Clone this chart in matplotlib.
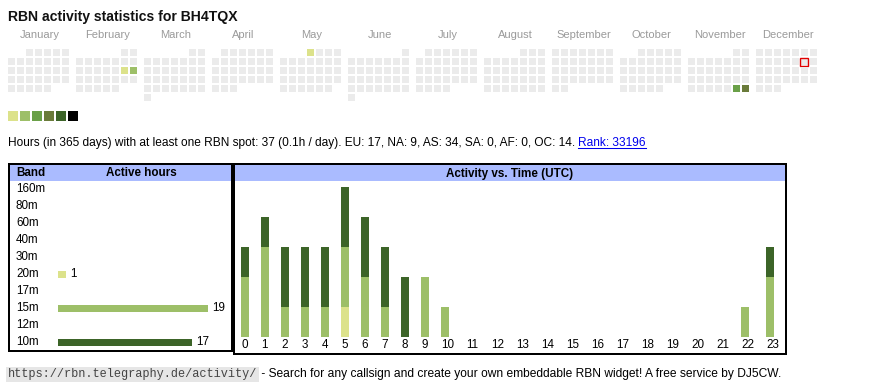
import datetime as dt
import numpy as np
import matplotlib
matplotlib.use("Agg")
import matplotlib.pyplot as plt
from matplotlib.patches import Rectangle
from matplotlib.transforms import blended_transform_factory

# ---------------- data ----------------
title = "RBN activity statistics for BH4TQX"
year = 2025
months = ["January", "February", "March", "April", "May", "June", "July",
          "August", "September", "October", "November", "December"]
active_days = ["2025-02-15", "2025-02-16", "2025-05-01", "2025-11-29", "2025-11-30"]
active_levels = [1, 2, 1, 3, 4]
today = "2025-12-13"
level_colors = ["#dce28b", "#9dbf68", "#6aa048", "#6a7b3a", "#3c6428", "#000000"]

bands = ["160m", "80m", "60m", "40m", "30m", "20m", "17m", "15m", "12m", "10m"]
band_hours = [0, 0, 0, 0, 0, 1, 0, 19, 0, 17]
band_colors = {"20m": "#dce28b", "15m": "#9dbf68", "10m": "#3c6428"}

hours = list(range(24))
hour_20m = [0, 0, 0, 0, 0, 1, 0, 0, 0, 0, 0, 0, 0, 0, 0, 0, 0, 0, 0, 0, 0, 0, 0, 0]
hour_15m = [2, 3, 1, 1, 1, 2, 2, 1, 0, 2, 1, 0, 0, 0, 0, 0, 0, 0, 0, 0, 0, 0, 1, 2]
hour_10m = [1, 1, 2, 2, 2, 2, 2, 2, 2, 0, 0, 0, 0, 0, 0, 0, 0, 0, 0, 0, 0, 0, 0, 1]

info_text = ("Hours (in 365 days) with at least one RBN spot: 37 (0.1h / day). "
             "EU: 17, NA: 9, AS: 34, SA: 0, AF: 0, OC: 14. ")
rank_text = "Rank: 33196"
footer_url = "https://rbn.telegraphy.de/activity/"
footer_text = " - Search for any callsign and create your own embeddable RBN widget! A free service by DJ5CW."

# ---------------- figure ----------------
W, H = 870, 390
fig = plt.figure(figsize=(W / 100, H / 100), dpi=100)
fig.patch.set_facecolor("white")
FONT = "Liberation Sans"

ax = fig.add_axes([0, 0, 1, 1])
ax.set_xlim(0, W)
ax.set_ylim(H, 0)
ax.axis("off")


def px_axes(x0, y0, w, h):
    a = fig.add_axes([x0 / W, 1 - (y0 + h) / H, w / W, h / H])
    a.axis("off")
    return a


# title
ax.text(8, 20.5, title, fontsize=10.1, fontweight="bold", family=FONT,
        va="baseline", ha="left", color="#111111")

# ---------------- calendar ----------------
lvl = {d: l for d, l in zip(active_days, active_levels)}
cal_x0, cal_y0, month_w, pitch, cell = 8, 49, 68, 9, 7
for m in range(1, 13):
    bx = cal_x0 + (m - 1) * month_w
    ax.text(bx + 31.5, 38, months[m - 1], fontsize=8.0, family=FONT,
            color="#9a9a9a", ha="center", va="baseline")
    d = dt.date(year, m, 1)
    first_wd = d.weekday()
    while d.month == m:
        idx = d.day - 1 + first_wd
        row, col = divmod(idx, 7)
        key = d.isoformat()
        color = level_colors[lvl[key] - 1] if key in lvl else "#ebebeb"
        x = bx + col * pitch
        y = cal_y0 + row * pitch
        ax.add_patch(Rectangle((x, y), cell, cell, facecolor=color, edgecolor="none"))
        if key == today:
            ax.add_patch(Rectangle((x - 0.5, y - 0.5), cell + 1, cell + 1,
                                   facecolor="none", edgecolor="#e00000", linewidth=1.0))
        d += dt.timedelta(days=1)

# legend squares
for i, c in enumerate(level_colors):
    ax.add_patch(Rectangle((8 + i * 12, 111), 10, 10, facecolor=c, edgecolor="none"))

# info line
t = ax.text(8, 146, info_text, fontsize=8.55, family=FONT, va="baseline", ha="left")
fig.canvas.draw()
r = fig.canvas.get_renderer()
bb = t.get_window_extent(renderer=r)
x_end = bb.x1
t2 = ax.text(x_end, 146, rank_text, fontsize=8.55, family=FONT, va="baseline",
             ha="left", color="#0000ee")
bb2 = t2.get_window_extent(renderer=r)
ax.plot([bb2.x0, bb2.x1], [147.5, 147.5], color="#0000ee", lw=0.75)

# ---------------- boxes ----------------
lw = 1.44
ax.add_patch(Rectangle((10, 165), 221, 16, facecolor="#aabbff", edgecolor="none"))
ax.add_patch(Rectangle((235, 165), 550, 16, facecolor="#aabbff", edgecolor="none"))
ax.add_patch(Rectangle((9, 164), 223, 187, facecolor="none", edgecolor="black", linewidth=lw))
ax.add_patch(Rectangle((234, 164), 552, 190, facecolor="none", edgecolor="black", linewidth=lw))

ax.text(16, 176.5, "Band", fontsize=8.4, fontweight="bold", family=FONT, va="baseline")
ax.text(141.5, 176.5, "Active hours", fontsize=8.4, fontweight="bold", family=FONT,
        va="baseline", ha="center")
ax.text(510, 176.5, "Activity vs. Time (UTC)", fontsize=8.4, fontweight="bold",
        family=FONT, va="baseline", ha="center")

# ---------------- band bars ----------------
row_h = 17
axb = px_axes(58, 189 - row_h / 2, 150, row_h * len(bands))
axb.set_xlim(0, max(band_hours))
axb.set_ylim(len(bands) - 0.5, -0.5)
ypos = np.arange(len(bands))
bcols = [band_colors.get(b, "#cccccc") for b in bands]
axb.barh(ypos, band_hours, height=7 / row_h, color=bcols, left=0)
tr = blended_transform_factory(ax.transData, axb.transData)
for i, (b, v) in enumerate(zip(bands, band_hours)):
    ax.text(16, i, b, transform=tr, fontsize=8.4, family=FONT, va="center", ha="left")
    if v > 0:
        axb.annotate(str(v), (v, i), xytext=(3, 0), textcoords="offset points",
                     fontsize=8.4, family=FONT, va="center", ha="left",
                     annotation_clip=False)

# ---------------- hourly bars ----------------
col_w = np.array([20 if h < 10 else 25 for h in hours])
lefts = np.concatenate([[0], np.cumsum(col_w)[:-1]]) + 6
totals = np.array(hour_20m) + np.array(hour_15m) + np.array(hour_10m)
unit = 30
axh = px_axes(235, 336.7 - unit * totals.max(), col_w.sum(), unit * totals.max())
axh.set_xlim(0, col_w.sum())
axh.set_ylim(0, totals.max())
b0 = np.zeros(24)
for vals, c in [(hour_20m, band_colors["20m"]), (hour_15m, band_colors["15m"]),
                (hour_10m, band_colors["10m"])]:
    axh.bar(lefts, vals, width=8, bottom=b0, color=c, align="edge")
    b0 = b0 + np.array(vals)
trh = blended_transform_factory(axh.transData, ax.transData)
for h, x in zip(hours, lefts):
    ax.text(x + 0.5, 345.5, str(h), transform=trh, fontsize=8.4, family=FONT,
            va="center", ha="left")

# ---------------- footer ----------------
tu = ax.text(8, 377.5, footer_url, fontsize=8.55, family="Liberation Mono",
             va="baseline", ha="left", color="#444444",
             bbox=dict(boxstyle="square,pad=0.15", facecolor="#e6e6e6", edgecolor="none"))
bbu = tu.get_window_extent(renderer=fig.canvas.get_renderer())
ax.text(bbu.x1 + 1, 377.5, footer_text, fontsize=8.65, family=FONT,
        va="baseline", ha="left")

fig.savefig("out.png", dpi=100, facecolor="white")
